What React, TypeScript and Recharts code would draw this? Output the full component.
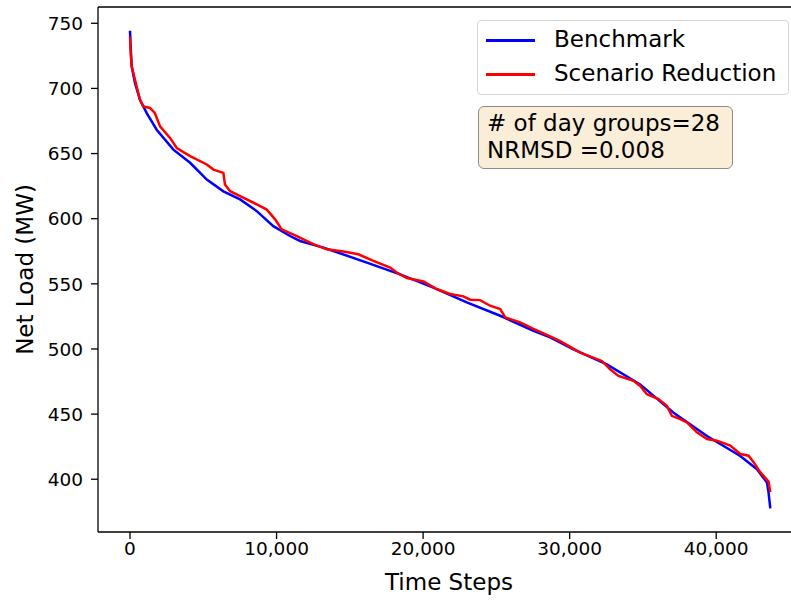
import { LineChart, Line, XAxis, YAxis, Legend, ReferenceLine } from 'recharts';

// load duration curves
const benchmarkSteps = [0, 30, 116, 340, 680, 1140, 1820, 2960, 4100, 5240, 6370, 7510, 8650, 9780, 10920, 11600, 13200, 13880, 16160, 18430, 20700, 22980, 25260, 27530, 28670, 30260, 32540, 34810, 37090, 39370, 41640, 42780, 43460, 43570, 43690];
const benchmarkLoad = [744.3, 735, 717, 704, 691.3, 681, 668.3, 653, 642.9, 630, 621, 614.8, 605.8, 594.3, 586.7, 582.9, 577.8, 575.2, 566.3, 557.3, 547.1, 535.7, 525.5, 514, 508.9, 499.6, 488.1, 472.8, 451.1, 433.2, 417.9, 407.7, 397.5, 389.9, 377.6];

const scenarioSteps = [0, 60, 116, 340, 680, 910, 1365, 1700, 2050, 2730, 3190, 4100, 5240, 5690, 6370, 6480, 6830, 7510, 8650, 9330, 9900, 10350, 11380, 12510, 13420, 14560, 15580, 16610, 17750, 18200, 18890, 20020, 20930, 21840, 22750, 23210, 23890, 24570, 25260, 25600, 26620, 27530, 28670, 29350, 30720, 32200, 32760, 33330, 34360, 34810, 35270, 36060, 36630, 36970, 37540, 38000, 38680, 39370, 40050, 40960, 41640, 42210, 42550, 43000, 43570, 43690];
const scenarioLoad = [739.7, 725, 716.8, 706.6, 691.3, 686.2, 685, 681, 670.9, 662, 654.3, 648, 641.6, 637.7, 635.2, 626.2, 621.1, 617.3, 611, 607, 599.5, 591.8, 586.7, 580.4, 576.5, 574.8, 572.7, 567.6, 562.5, 558.7, 554.4, 551.8, 546, 542.2, 540.4, 537.8, 537.5, 533.2, 530.6, 524.3, 520.4, 515.4, 509.7, 506, 497.2, 490.8, 484.4, 479.3, 475.5, 471.6, 465.3, 461.5, 456.4, 448.7, 446.2, 443.6, 436, 430.9, 429.6, 425.8, 419.4, 418.1, 413.1, 405.4, 398.2, 390.1];

const xTicks = [0, 10000, 20000, 30000, 40000];
const yTicks = [400, 450, 500, 550, 600, 650, 700, 750];
const xDomain = [-2184, 45990];
const yDomain = [359.5, 762.5];

const benchmark = benchmarkSteps.map((t, i) => ({ t, load: benchmarkLoad[i] }));
const scenario = scenarioSteps.map((t, i) => ({ t, load: scenarioLoad[i] }));

const FONT = '"DejaVu Sans", sans-serif';

const series = [
  { name: 'Benchmark', color: '#0000ff' },
  { name: 'Scenario Reduction', color: '#ff0000' },
];

function XTick({ x, y, payload }: any) {
  return (
    <text x={x} y={y + 14} textAnchor="middle" fontSize={18.5} fontFamily={FONT} fill="#000">
      {Number(payload.value).toLocaleString('en-US')}
    </text>
  );
}

function YTick({ x, y, payload }: any) {
  return (
    <text x={x - 6} y={y + 6.7} textAnchor="end" fontSize={18.5} fontFamily={FONT} fill="#000">
      {payload.value}
    </text>
  );
}

function LegendBox() {
  return (
    <div
      style={{
        width: 312,
        height: 75,
        boxSizing: 'border-box',
        border: '1px solid #d6d6d6',
        borderRadius: 4,
        background: 'rgba(255,255,255,0.8)',
        position: 'relative',
        fontFamily: FONT,
        fontSize: 23,
      }}
    >
      {series.map((s, i) => (
        <div key={s.name}>
          <div
            style={{
              position: 'absolute',
              left: 8,
              top: 18 + i * 34,
              width: 49,
              height: 2.5,
              background: s.color,
            }}
          />
          <div
            style={{
              position: 'absolute',
              left: 76,
              top: 4 + i * 34,
              lineHeight: '28px',
              whiteSpace: 'nowrap',
              color: '#000',
            }}
          >
            {s.name}
          </div>
        </div>
      ))}
    </div>
  );
}

const axisStroke = { stroke: '#000', strokeWidth: 1.3 };

export default function App() {
  return (
    <div style={{ position: 'absolute', left: 0, top: 0, width: 791, height: 601, overflow: 'hidden', background: '#fff' }}>
      <LineChart width={806} height={601} margin={{ top: 7, right: 2, bottom: 0, left: 0 }}>
        <XAxis
          type="number"
          dataKey="t"
          domain={xDomain}
          ticks={xTicks}
          allowDataOverflow
          height={69}
          tickSize={7}
          tick={<XTick />}
          axisLine={axisStroke}
          tickLine={axisStroke}
          label={{
            content: ({ viewBox }: any) => (
              <text x={449} y={viewBox.y + 58} textAnchor="middle" fontSize={23} fontFamily={FONT} fill="#000">
                Time Steps
              </text>
            ),
          }}
        />
        <YAxis
          type="number"
          domain={yDomain}
          ticks={yTicks}
          allowDataOverflow
          width={98}
          tickSize={7}
          tick={<YTick />}
          axisLine={axisStroke}
          tickLine={axisStroke}
          label={{
            content: ({ viewBox }: any) => {
              const cy = viewBox.y + viewBox.height / 2;
              return (
                <text
                  x={33}
                  y={cy}
                  transform={`rotate(-90 33 ${cy})`}
                  textAnchor="middle"
                  fontSize={23}
                  fontFamily={FONT}
                  fill="#000"
                >
                  Net Load (MW)
                </text>
              );
            },
          }}
        />
        <ReferenceLine y={yDomain[1]} stroke="#000" strokeWidth={1.3} />
        <Line
          data={benchmark}
          dataKey="load"
          name="Benchmark"
          stroke="#0000ff"
          strokeWidth={2.5}
          dot={false}
          type="linear"
          isAnimationActive={false}
        />
        <Line
          data={scenario}
          dataKey="load"
          name="Scenario Reduction"
          stroke="#ff0000"
          strokeWidth={2.5}
          dot={false}
          type="linear"
          isAnimationActive={false}
        />
        <Legend
          layout="horizontal"
          verticalAlign="middle"
          align="center"
          content={<LegendBox />}
          wrapperStyle={{ left: 477, top: 20, width: 312, height: 75 }}
        />
      </LineChart>
      <div
        style={{
          position: 'absolute',
          left: 478,
          top: 106,
          width: 255,
          height: 63,
          boxSizing: 'border-box',
          border: '1.5px solid #8c8c8c',
          borderRadius: 6,
          background: '#faeed9',
          fontFamily: FONT,
          fontSize: 23,
          lineHeight: '27px',
          padding: '3px 0 0 8px',
          color: '#000',
          whiteSpace: 'nowrap',
        }}
      >
        <div># of day groups=28</div>
        <div>NRMSD =0.008</div>
      </div>
    </div>
  );
}
